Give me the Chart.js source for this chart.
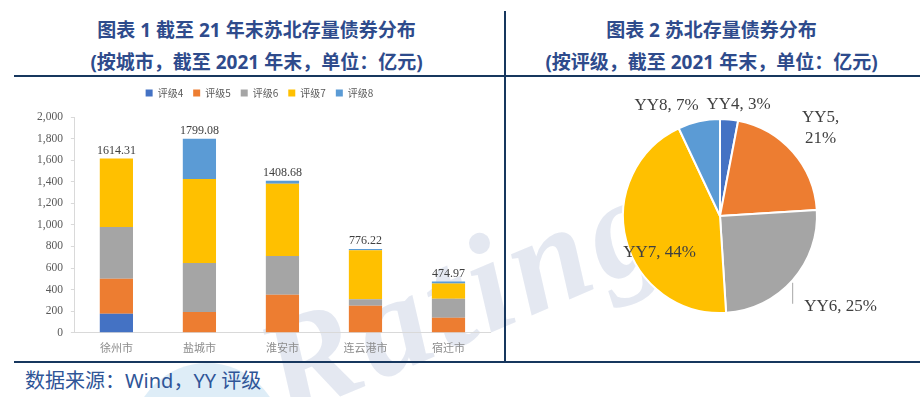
<!DOCTYPE html>
<html>
<head>
<meta charset="utf-8">
<script src="https://cdn.jsdelivr.net/npm/chart.js@4.4.1/dist/chart.umd.min.js"></script>
<style>
  html, body { margin:0; padding:0; background:#fff; }
  #page { position:relative; width:920px; height:397px; overflow:hidden; font-family:"Noto Sans","Noto Sans CJK SC",sans-serif; }
  .title { position:absolute; text-align:center; font-weight:bold; font-size:19px; line-height:22px; color:#2e4b8c; white-space:nowrap; }
  .rule { position:absolute; background:#17375e; }
  #mark { position:absolute; left:285px; top:303px; font:italic bold 140px "Liberation Serif",serif; line-height:1; letter-spacing:6px;
          color:rgba(150,165,200,0.26); transform:rotate(-23deg); transform-origin:0 117px; white-space:nowrap; }
  #logoClip { position:absolute; left:0; top:363px; width:920px; height:34px; overflow:hidden; }
  #logo { position:absolute; left:132px; top:0; width:150px; height:150px; border-radius:50%; background:rgba(195,222,240,0.55); }
  #barWrap { position:absolute; left:15px; top:78px; width:490px; height:284px; }
  #pieWrap { position:absolute; left:506px; top:78px; width:414px; height:284px; }
  #source { position:absolute; left:25px; top:368px; font-size:20px; line-height:26px; color:#2f5597; white-space:nowrap; }
</style>
</head>
<body>
<div id="page">
  <div id="mark">Ratings</div>
  <div id="logoClip"><div id="logo"></div></div>

  <div class="title" style="left:8px;width:497px;top:19px;">图表 1 截至 21 年末苏北存量债券分布</div>
  <div class="title" style="left:8px;width:497px;top:51px;">(按城市，截至 2021 年末，单位：亿元)</div>
  <div class="title" style="left:505px;width:413px;top:19px;">图表 2 苏北存量债券分布</div>
  <div class="title" style="left:505px;width:413px;top:51px;">(按评级，截至 2021 年末，单位：亿元)</div>

  <div class="rule" style="left:14px;width:906px;top:75px;height:2px;"></div>
  <div class="rule" style="left:504px;width:2px;top:11px;height:351px;"></div>
  <div class="rule" style="left:14px;width:906px;top:361px;height:2px;"></div>

  <div id="barWrap"><canvas id="barChart" width="490" height="284"></canvas></div>
  <div id="pieWrap"><canvas id="pieChart" width="414" height="284"></canvas></div>

  <div id="source">数据来源：Wind，YY 评级</div>
</div>

<script>
// ===== Data =====
const cities = ['徐州市','盐城市','淮安市','连云港市','宿迁市'];
const ratingNames = ['评级4','评级5','评级6','评级7','评级8'];
const grade4 = [176, 0, 0, 0, 0];
const grade5 = [325, 192, 352, 250, 139];
const grade6 = [479, 454, 359, 62, 176];
const grade7 = [634.31, 779, 671, 452, 142];
const grade8 = [0, 374.08, 26.68, 12.22, 17.97];
const cityTotals = ['1614.31','1799.08','1408.68','776.22','474.97'];
const yTicks = [0, 2000, 200];   // min, max, step

const pieLabels = ['YY4','YY5','YY6','YY7','YY8'];
const piePercent = [3, 21, 25, 44, 7];

const colors = ['#4472c4','#ed7d31','#a5a5a5','#ffc000','#5b9bd5'];
const serif = '"Liberation Serif","DejaVu Serif",serif';
const cjk = '"Noto Sans CJK SC","Noto Sans",sans-serif';

document.addEventListener('DOMContentLoaded', function(){
    initBarChart();
    initPieChart();
});

// ===== Stacked bar by city =====
function initBarChart(){
    const ctx = document.getElementById('barChart').getContext('2d');
    const series = [grade4, grade5, grade6, grade7, grade8];
    const datasets = series.map((d,i)=>({
        label: ratingNames[i],
        data: d,
        backgroundColor: colors[i],
        borderWidth: 0,
        barPercentage: 0.4,
        categoryPercentage: 1.0
    }));

    // push the plot down a bit below the legend
    const legendGap = {
        id:'legendGap',
        beforeInit(chart){
            const fit = chart.legend.fit;
            chart.legend.fit = function(){ fit.bind(chart.legend)(); this.height += 9; };
        }
    };

    // totals above each stack
    const totalLabels = {
        id:'totalLabels',
        afterDatasetsDraw(chart){
            const c = chart.ctx;
            const meta = chart.getDatasetMeta(chart.data.datasets.length-1);
            c.save();
            c.font = '12px ' + serif;
            c.fillStyle = '#404040';
            c.textAlign = 'center';
            c.textBaseline = 'middle';
            meta.data.forEach((bar,i)=>{
                c.fillText(cityTotals[i], bar.x, bar.y - 8);
            });
            c.restore();
        }
    };

    new Chart(ctx,{
        type:'bar',
        data:{ labels: cities, datasets },
        plugins:[legendGap, totalLabels],
        options:{
            responsive:false,
            animation:false,
            layout:{ padding:{ left:14, right:15, top:0, bottom:0 } },
            plugins:{
                legend:{
                    position:'top',
                    labels:{ boxWidth:7, boxHeight:7, padding:10, color:'#595959', font:{ size:10, family:cjk } }
                },
                tooltip:{ enabled:false }
            },
            scales:{
                x:{
                    stacked:true,
                    grid:{ drawOnChartArea:false, drawTicks:false },
                    border:{ color:'#d9d9d9' },
                    ticks:{ color:'#8c8c8c', padding:8, font:{ size:11, family:cjk } }
                },
                y:{
                    stacked:true,
                    min:yTicks[0], max:yTicks[1],
                    grid:{ drawOnChartArea:false, tickLength:4, color:'#d9d9d9' },
                    border:{ color:'#d9d9d9' },
                    ticks:{ stepSize:yTicks[2], color:'#595959', padding:8, font:{ size:11.5, family:serif } }
                }
            }
        }
    });
}

// ===== Pie by rating =====
function initPieChart(){
    const ctx = document.getElementById('pieChart').getContext('2d');
    // label placement relative to each slice: radius factor and nudge
    const labelPos = [
        { k:1.15, dx:8,   dy:0 },
        { k:1.15, dx:17,  dy:-15 },
        { k:1.15, dx:37,  dy:17, leader:true },
        { k:0.6,  dx:-4,  dy:22 },
        { k:1.15, dx:-29, dy:-2 }
    ];

    const pieLabelPlugin = {
        id:'pieLabelPlugin',
        afterDatasetsDraw(chart){
            const c = chart.ctx;
            const meta = chart.getDatasetMeta(0);
            c.save();
            c.font = '17px ' + serif;
            c.fillStyle = '#404040';
            c.textAlign = 'center';
            c.textBaseline = 'middle';
            meta.data.forEach((arc,i)=>{
                const p = arc.getProps(['x','y','startAngle','endAngle','outerRadius'], true);
                const mid = (p.startAngle + p.endAngle)/2;
                const lp = labelPos[i];
                const x = p.x + Math.cos(mid)*p.outerRadius*lp.k + lp.dx;
                const y = p.y + Math.sin(mid)*p.outerRadius*lp.k + lp.dy;
                if(i===1){
                    c.fillText(pieLabels[i]+',', x, y-10);
                    c.fillText(piePercent[i]+'%', x, y+11);
                } else {
                    c.fillText(pieLabels[i]+', '+piePercent[i]+'%', x, y);
                }
                if(lp.leader){
                    c.strokeStyle = '#a6a6a6';
                    c.lineWidth = 1;
                    c.beginPath();
                    c.moveTo(x-48, y-24);
                    c.lineTo(x-48, y-3);
                    c.stroke();
                }
            });
            c.restore();
        }
    };

    new Chart(ctx,{
        type:'pie',
        data:{ labels: pieLabels, datasets:[{ data: piePercent, backgroundColor: colors, borderColor:'#ffffff', borderWidth:2 }] },
        plugins:[pieLabelPlugin],
        options:{
            responsive:false,
            animation:false,
            layout:{ padding:{ left:116, right:102, top:40, bottom:48 } },
            plugins:{ legend:{ display:false }, tooltip:{ enabled:false } }
        }
    });
}
</script>
</body>
</html>
